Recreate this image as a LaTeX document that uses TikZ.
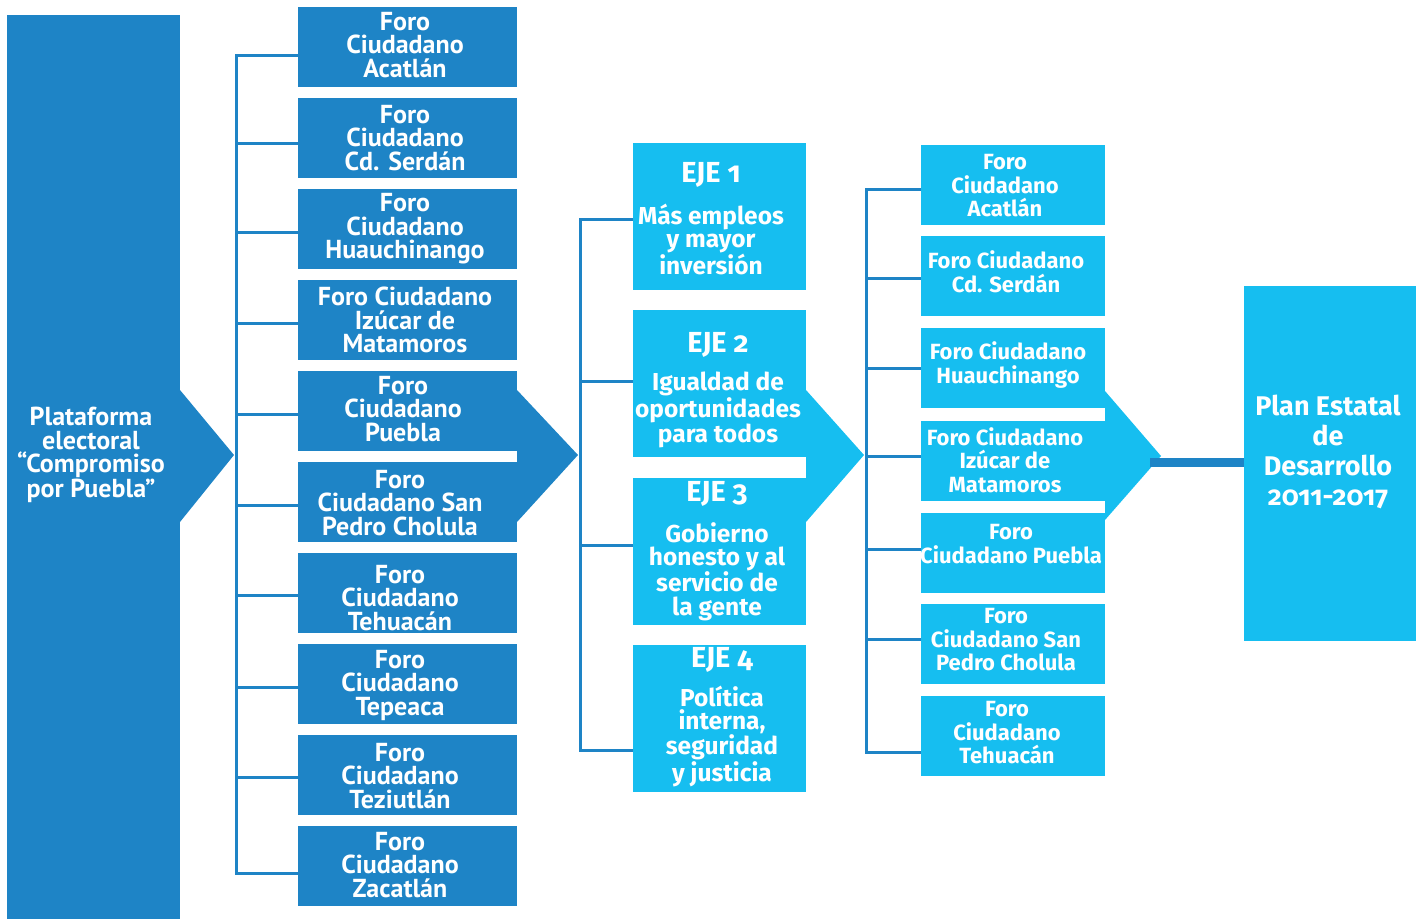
\documentclass[tikz,border=0pt]{standalone}
\usepackage{fontspec}
\setmainfont{PT Sans}
\newfontfamily\fira[Numbers=OldStyle]{Fira Sans}
\definecolor{dkb}{RGB}{30,132,198}
\definecolor{ltb}{RGB}{22,190,240}
\begin{document}
\begin{tikzpicture}[x=1pt,y=-1pt,
  lbox/.style={fill=dkb, minimum width=219pt, minimum height=80pt, inner sep=0pt},
  ebox/.style={fill=ltb, minimum width=173pt, minimum height=147pt, inner sep=0pt},
  rbox/.style={fill=ltb, minimum width=184pt, minimum height=80pt, inner sep=0pt},
  ltext/.style={text=white, align=center, inner sep=0pt, font=\bfseries\fontsize{26}{23.5}\selectfont},
  etext/.style={text=white, align=center, inner sep=0pt, font=\fira\bfseries\fontsize{24.5}{23.5}\selectfont},
  rtext/.style={text=white, align=center, inner sep=0pt, font=\fira\bfseries\fontsize{22}{23.5}\selectfont},
  ptext/.style={text=white, align=center, inner sep=0pt, font=\fira\bfseries\fontsize{27}{30}\selectfont},
  brk/.style={draw=dkb, line width=3pt}
]
\useasboundingbox (0,0) rectangle (1416,919);

% ---------- left platform box ----------
\node[fill=dkb, minimum width=173pt, minimum height=904pt, inner sep=0pt] (plat) at (93.5,467) {};
\fill[dkb] (180,390) -- (234,455) -- (180,522) -- cycle;
\node[ltext] (platt) at (91,455) {Plataforma\\electoral\\“Compromiso\\por Puebla”};

% ---------- left forum boxes ----------
\node[lbox] (l1) at (407.5,47) {};
\node[lbox] (l2) at (407.5,138) {};
\node[lbox] (l3) at (407.5,229) {};
\node[lbox] (l4) at (407.5,320) {};
\node[lbox] (l5) at (407.5,411) {};
\node[lbox] (l6) at (407.5,502) {};
\node[lbox] (l7) at (407.5,593) {};
\node[lbox] (l8) at (407.5,684) {};
\node[lbox] (l9) at (407.5,775) {};
\node[lbox] (l10) at (407.5,866) {};
\fill[dkb] (517,390) -- (578,455) -- (517,522) -- cycle;

\node[ltext] (l1t) at (405,45) {Foro\\Ciudadano\\Acatlán};
\node[ltext] (l2t) at (405,138) {Foro\\Ciudadano\\Cd. Serdán};
\node[ltext] (l3t) at (405,229) {Foro\\Ciudadano\\Huauchinango};
\node[ltext] (l4t) at (405,320) {Foro Ciudadano\\Izúcar de\\Matamoros};
\node[ltext] (l5t) at (403,409) {Foro\\Ciudadano\\Puebla};
\node[ltext] (l6t) at (400,503) {Foro\\Ciudadano San\\Pedro Cholula};
\node[ltext] (l7t) at (400,598) {Foro\\Ciudadano\\Tehuacán};
\node[ltext] (l8t) at (400,685) {Foro\\Ciudadano\\Tepeaca};
\node[ltext] (l9t) at (400,776) {Foro\\Ciudadano\\Teziutlán};
\node[ltext] (l10t) at (400,865) {Foro\\Ciudadano\\Zacatlán};

% left bracket
\coordinate (bl) at (236,455);
\draw[brk] (l1.west |- 0,55) -| (bl) |- (l10.west |- 0,873);
\draw[brk] (l2.west |- 0,143) -- (bl |- 0,143);
\draw[brk] (l3.west |- 0,232) -- (bl |- 0,232);
\draw[brk] (l4.west |- 0,323) -- (bl |- 0,323);
\draw[brk] (l5.west |- 0,414) -- (bl |- 0,414);
\draw[brk] (l6.west |- 0,505) -- (bl |- 0,505);
\draw[brk] (l7.west |- 0,595) -- (bl |- 0,595);
\draw[brk] (l8.west |- 0,687) -- (bl |- 0,687);
\draw[brk] (l9.west |- 0,777) -- (bl |- 0,777);

% ---------- EJE boxes ----------
\node[ebox] (e1) at (719.5,216.5) {};
\node[ebox] (e2) at (719.5,383.5) {};
\node[ebox] (e3) at (719.5,551) {};
\node[ebox] (e4) at (719.5,718.5) {};
\fill[ltb] (806,390) -- (864,455) -- (806,522) -- cycle;

\node[etext] (e1t) at (711,219) {{\fontsize{29}{29}\selectfont EJE 1}\\[15pt]Más empleos\\y mayor\\inversión};
\node[etext] (e2t) at (718,390) {{\fontsize{29}{29}\selectfont EJE 2}\\[15pt]Igualdad de\\oportunidades\\para todos};
\node[etext] (e3t) at (717,551) {{\fontsize{29}{29}\selectfont EJE 3}\\[15pt]Gobierno\\honesto y al\\servicio de\\la gente};
\node[etext] (e4t) at (722,717) {{\fontsize{29}{29}\selectfont EJE 4}\\[12pt]Política\\interna,\\seguridad\\y justicia};

% EJE bracket
\coordinate (be) at (580,455);
\draw[brk] (e1.west |- 0,219) -| (be) |- (e4.west |- 0,750);
\draw[brk] (e2.west |- 0,381) -- (be |- 0,381);
\draw[brk] (e3.west |- 0,545) -- (be |- 0,545);

% ---------- right forum boxes ----------
\node[rbox] (r1) at (1013,185) {};
\node[rbox] (r2) at (1013,276) {};
\node[rbox] (r3) at (1013,368) {};
\node[rbox] (r4) at (1013,461) {};
\node[rbox] (r5) at (1013,553) {};
\node[rbox] (r6) at (1013,644) {};
\node[rbox] (r7) at (1013,736) {};

% plan box and link
\node[fill=ltb, minimum width=172pt, minimum height=355pt, inner sep=0pt] (plan) at (1330,463.5) {};
\coordinate (tip4) at (1150,462);
\fill[ltb] (1105,391) -- (1161,456) -- (1105,520) -- cycle;
\draw[dkb, line width=9pt] (tip4) -- (tip4 -| plan.west);

\node[rtext] (r1t) at (1005,186) {Foro\\Ciudadano\\Acatlán};
\node[rtext] (r2t) at (1006,272) {Foro Ciudadano\\Cd. Serdán};
\node[rtext] (r3t) at (1008,365) {Foro Ciudadano\\Huauchinango};
\node[rtext] (r4t) at (1005,460) {Foro Ciudadano\\Izúcar de\\Matamoros};
\node[rtext] (r5t) at (1011,544) {Foro\\Ciudadano Puebla};
\node[rtext] (r6t) at (1006,640) {Foro\\Ciudadano San\\Pedro Cholula};
\node[rtext] (r7t) at (1007,733) {Foro\\Ciudadano\\Tehuacán};

\node[ptext] (plant) at (1328,452) {Plan Estatal\\de\\Desarrollo\\2011-2017};

% right bracket
\coordinate (br) at (866,455);
\draw[brk] (r1.west |- 0,189) -| (br) |- (r7.west |- 0,752);
\draw[brk] (r2.west |- 0,278) -- (br |- 0,278);
\draw[brk] (r3.west |- 0,368) -- (br |- 0,368);
\draw[brk] (r4.west |- 0,456) -- (br |- 0,456);
\draw[brk] (r5.west |- 0,549) -- (br |- 0,549);
\draw[brk] (r6.west |- 0,639) -- (br |- 0,639);
\end{tikzpicture}
\end{document}
